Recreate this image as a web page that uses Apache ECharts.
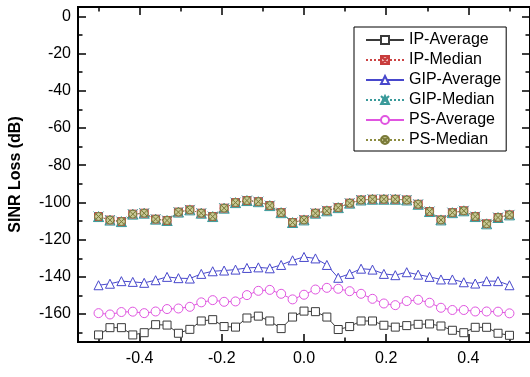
<!DOCTYPE html>
<html><head><meta charset="utf-8">
<script src="https://cdn.jsdelivr.net/npm/echarts@6/dist/echarts.min.js"></script>
<style>html,body{margin:0;padding:0;background:#fff}#c{width:530px;height:377px}</style>
</head><body><div id="c"></div>
<script>
const xValues = [-0.5,-0.4722,-0.4444,-0.4167,-0.3889,-0.3611,-0.3333,-0.3056,-0.2778,-0.25,-0.2222,-0.1944,-0.1667,-0.1389,-0.1111,-0.0833,-0.0556,-0.0278,0,0.0278,0.0556,0.0833,0.1111,0.1389,0.1667,0.1944,0.2222,0.25,0.2778,0.3056,0.3333,0.3611,0.3889,0.4167,0.4444,0.4722,0.5];
const ipAverage = [-171.2,-167.3,-167.3,-171.2,-170.0,-165.7,-165.9,-170.3,-168.2,-163.7,-163.0,-166.7,-167.0,-162.1,-161.1,-163.7,-167.8,-161.6,-158.4,-158.7,-161.6,-168.3,-166.7,-163.7,-163.7,-166.0,-167.0,-166.2,-165.5,-165.3,-166.4,-168.7,-170.0,-167.1,-167.1,-170.3,-171.4];
const gipAverage = [-144.5,-143.7,-142.3,-142.7,-143.2,-141.8,-140.0,-140.7,-140.9,-138.4,-137.0,-136.6,-136.1,-135.2,-134.9,-135.4,-133.6,-131.1,-129.3,-130.1,-133.6,-140.5,-138.4,-135.6,-136.1,-138.4,-139.1,-137.5,-138.8,-140.0,-141.4,-141.4,-142.9,-143.6,-142.3,-142.3,-144.5];
const psAverage = [-159.5,-160.2,-158.9,-158.7,-159.5,-158.6,-157.3,-157.0,-156.1,-153.7,-152.5,-153.4,-153.2,-149.8,-147.5,-147.0,-149.1,-152.1,-149.6,-146.8,-145.9,-146.4,-147.7,-149.1,-151.8,-154.3,-155.2,-153.0,-152.3,-153.9,-156.6,-157.8,-157.8,-158.6,-158.6,-158.7,-159.6];
const ipMedian = [-107.6,-109.5,-110.3,-106.3,-105.8,-109.0,-109.7,-105.2,-104.0,-105.8,-107.6,-103.1,-100.1,-99.0,-99.6,-101.7,-105.5,-110.8,-109.4,-105.8,-104.5,-102.8,-100.4,-98.7,-98.3,-98.3,-98.3,-98.7,-101.0,-104.9,-109.4,-105.5,-104.5,-107.6,-111.5,-108.1,-106.7];
const gipMedian = ipMedian.slice();
const psMedian = ipMedian.slice();
const seriesNames = ['IP-Average','IP-Median','GIP-Average','GIP-Median','PS-Average','PS-Median'];
const xMajorTicks = [-0.4,-0.2,0,0.2,0.4];
const xMinorTicks = [-0.5,-0.3,-0.1,0.1,0.3,0.5];
const yMajorTicks = [0,-20,-40,-60,-80,-100,-120,-140,-160];
const yMinorTicks = [-10,-30,-50,-70,-90,-110,-130,-150,-170];

const FONT = 'Liberation Sans, Arial, sans-serif';
const pairs = arr => arr.map((v, i) => [xValues[i], v]);

function xAx(pos, ticks, len, labels) {
  return {
    type: 'value', min: -0.55, max: 0.55, position: pos, gridIndex: 0,
    axisLine: { show: true, onZero: false, lineStyle: { color: '#000', width: 2 } },
    axisTick: { show: true, inside: true, length: len, customValues: ticks, lineStyle: { color: '#000', width: 1.5 } },
    axisLabel: labels ? { show: true, customValues: ticks, formatter: v => v.toFixed(1), fontSize: 16, color: '#000', fontFamily: FONT, margin: 9 } : { show: false },
    splitLine: { show: false }
  };
}
function yAx(pos, ticks, len, labels) {
  const a = {
    type: 'value', min: -175, max: 5, position: pos, gridIndex: 0,
    axisLine: { show: true, onZero: false, lineStyle: { color: '#000', width: 2 } },
    axisTick: { show: true, inside: true, length: len, customValues: ticks, lineStyle: { color: '#000', width: 1.5 } },
    axisLabel: labels ? { show: true, customValues: ticks, fontSize: 16, color: '#000', fontFamily: FONT, margin: 7 } : { show: false },
    splitLine: { show: false }
  };
  if (labels) {
    a.name = 'SINR Loss (dB)';
    a.nameLocation = 'middle';
    a.nameRotate = 90;
    a.nameGap = 54;
    a.nameTextStyle = { fontSize: 16, fontWeight: 'bold', color: '#000', fontFamily: FONT };
  }
  return a;
}

const squareX = 'path://M0,0L10,0L10,10L0,10ZM0,0L10,10M10,0L0,10';
const triX = 'path://M5,0L10,10L0,10ZM0,0L10,10M10,0L0,10';
const circleX = 'path://M0,5A5,5,0,1,1,10,5A5,5,0,1,1,0,5ZM1.5,1.5L8.5,8.5M8.5,1.5L1.5,8.5';

function avgSeries(name, data, color, symbol, size) {
  return {
    name, type: 'line', data: pairs(data), xAxisIndex: 0, yAxisIndex: 0,
    symbol, symbolSize: size, showAllSymbol: true,
    lineStyle: { color, width: 1 },
    itemStyle: { color: '#fff', borderColor: color, borderWidth: 1 },
    emphasis: { disabled: true }
  };
}
function medSeries(name, data, lineColor, fill, border, symbol, size) {
  return {
    name, type: 'line', data: pairs(data), xAxisIndex: 0, yAxisIndex: 0,
    symbol, symbolSize: size, showAllSymbol: true,
    lineStyle: { color: lineColor, width: 1, type: 'dotted' },
    itemStyle: { color: fill, borderColor: border, borderWidth: 1 },
    emphasis: { disabled: true }, z: 3
  };
}

const chart = echarts.init(document.getElementById('c'), null, { renderer: 'canvas' });
chart.setOption({
  animation: false,
  backgroundColor: '#fff',
  grid: { left: 77, top: 7, width: 454, height: 335, containLabel: false },
  xAxis: [xAx('bottom', xMajorTicks, 8, true), xAx('bottom', xMinorTicks, 4.5, false), xAx('top', xMajorTicks, 8, false), xAx('top', xMinorTicks, 4.5, false)],
  yAxis: [yAx('left', yMajorTicks, 8, true), yAx('left', yMinorTicks, 4.5, false), yAx('right', yMajorTicks, 8, false), yAx('right', yMinorTicks, 4.5, false)],
  legend: {
    orient: 'vertical', left: 354, top: 27,
    data: seriesNames,
    itemWidth: 38, itemHeight: 10, itemGap: 0,
    padding: [3, 5, 1, 11],
    borderColor: '#000', borderWidth: 1, backgroundColor: '#fff',
    textStyle: { fontSize: 16, color: '#000', fontFamily: FONT, lineHeight: 20 },
    selectedMode: false
  },
  series: [
    avgSeries('IP-Average', ipAverage, '#3a3a3a', 'rect', 8),
    avgSeries('GIP-Average', gipAverage, '#4848cc', 'triangle', 9),
    avgSeries('PS-Average', psAverage, '#e055e0', 'circle', 9),
    medSeries('IP-Median', ipMedian, '#cc4444', '#f0b4b4', '#c83c3c', squareX, 8),
    medSeries('GIP-Median', gipMedian, '#3a9a9a', 'rgba(0,0,0,0)', '#3a9a9a', triX, 10),
    medSeries('PS-Median', psMedian, '#8c8c40', '#c8c896', '#7a7a38', circleX, 8)
  ]
});
</script></body></html>
